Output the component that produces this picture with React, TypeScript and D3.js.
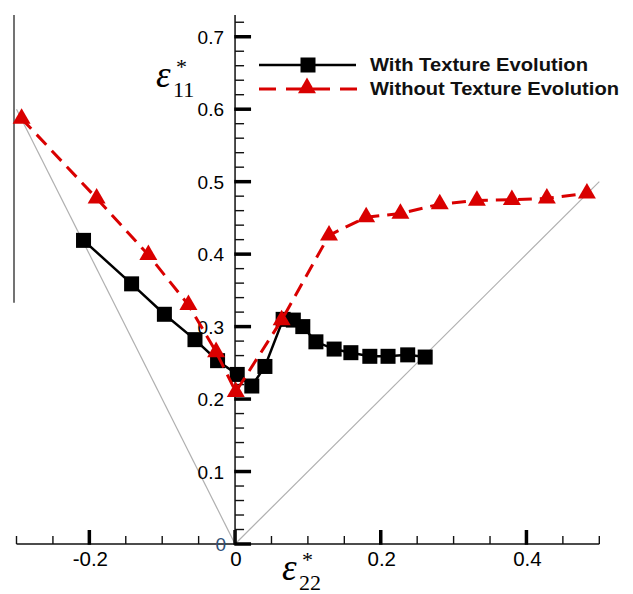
import React, { useRef, useEffect } from 'react';
import * as d3 from 'd3';

// With Texture Evolution (black squares)
const withX = [-0.208, -0.142, -0.097, -0.055, -0.024, 0.003, 0.023, 0.041, 0.066, 0.08, 0.093, 0.111, 0.136, 0.159, 0.185, 0.21, 0.237, 0.261];
const withY = [0.419, 0.359, 0.317, 0.282, 0.253, 0.234, 0.218, 0.245, 0.31, 0.309, 0.3, 0.279, 0.269, 0.264, 0.259, 0.259, 0.261, 0.258];

// Without Texture Evolution (red triangles)
const withoutX = [-0.293, -0.19, -0.119, -0.064, -0.026, 0.001, 0.064, 0.129, 0.18, 0.227, 0.281, 0.332, 0.38, 0.428, 0.483];
const withoutY = [0.587, 0.477, 0.399, 0.33, 0.265, 0.21, 0.309, 0.426, 0.451, 0.456, 0.469, 0.474, 0.475, 0.477, 0.484];

// grey reference lines
const refLeft: [number, number][] = [[-0.3, 0.6], [0, 0]];
const refRight: [number, number][] = [[0, 0], [0.5, 0.5]];

const xMajor = [-0.2, 0, 0.2, 0.4];
const xLabels = ['-0.2', '0', '0.2', '0.4'];
const yMajor = [0.1, 0.2, 0.3, 0.4, 0.5, 0.6, 0.7];
const yLabels = ['0.1', '0.2', '0.3', '0.4', '0.5', '0.6', '0.7'];

const seriesNames = ['With Texture Evolution', 'Without Texture Evolution'];

const W = 633;
const H = 594;
const RED = '#d90000';
const SANS = '"Liberation Sans", Arial, sans-serif';
const SERIF = '"Liberation Serif", "Times New Roman", serif';

const App: React.FC = () => {
    const svgRef = useRef<SVGSVGElement | null>(null);

    useEffect(() => {
        if (!svgRef.current) return;
        const svg = d3.select(svgRef.current);
        svg.selectAll('*').remove();

        const x = d3.scaleLinear().domain([-0.3, 0.5]).range([16.5, 599.3]);
        const y = d3.scaleLinear().domain([0, 0.73]).range([544, 15]);
        const x0 = x(0);
        const y0 = y(0);

        svg.append('rect').attr('width', W).attr('height', H).attr('fill', '#fff');

        // stray frame line on the left
        svg.append('line')
            .attr('x1', 14).attr('x2', 14)
            .attr('y1', y(0.73)).attr('y2', y(0.333))
            .attr('stroke', '#444').attr('stroke-width', 1.5);

        const line = d3.line<[number, number]>()
            .x((d) => x(d[0]))
            .y((d) => y(d[1]));

        [refLeft, refRight].forEach((r) => {
            svg.append('path')
                .attr('d', line(r))
                .attr('fill', 'none')
                .attr('stroke', '#b0b0b0')
                .attr('stroke-width', 1.2);
        });

        // x axis
        svg.append('line')
            .attr('x1', x(-0.3)).attr('x2', x(0.5))
            .attr('y1', y0).attr('y2', y0)
            .attr('stroke', '#111').attr('stroke-width', 1.5);
        const xMinor = d3.range(-6, 11).map((i) => i * 0.05)
            .filter((v) => !xMajor.some((m) => Math.abs(m - v) < 1e-6));
        svg.selectAll('.xminor').data(xMinor).enter().append('line')
            .attr('x1', (d) => x(d)).attr('x2', (d) => x(d))
            .attr('y1', y0).attr('y2', y0 - 8)
            .attr('stroke', '#111').attr('stroke-width', 1.4);
        svg.selectAll('.xmajor').data(xMajor).enter().append('line')
            .attr('x1', (d) => x(d)).attr('x2', (d) => x(d))
            .attr('y1', y0 + 0.75).attr('y2', y0 - 14)
            .attr('stroke', '#000').attr('stroke-width', 3.5);
        svg.selectAll('.xlab').data(xMajor).enter().append('text')
            .attr('x', (d) => x(d) + 1)
            .attr('y', 566)
            .attr('text-anchor', 'middle')
            .attr('font-family', SANS)
            .attr('font-size', 20.5)
            .attr('fill', '#000')
            .text((d, i) => xLabels[i]);

        // y axis
        svg.append('line')
            .attr('x1', x0).attr('x2', x0)
            .attr('y1', y0).attr('y2', y(0.73))
            .attr('stroke', '#111').attr('stroke-width', 1.5);
        const yMinor = d3.range(1, 37).map((i) => i * 0.02)
            .filter((v) => !yMajor.some((m) => Math.abs(m - v) < 1e-6));
        svg.selectAll('.yminor').data(yMinor).enter().append('line')
            .attr('x1', x0).attr('x2', x0 + 9)
            .attr('y1', (d) => y(d)).attr('y2', (d) => y(d))
            .attr('stroke', '#111').attr('stroke-width', 1.4);
        svg.selectAll('.ymajor').data([0, ...yMajor]).enter().append('line')
            .attr('x1', x0 - 0.75).attr('x2', x0 + 16)
            .attr('y1', (d) => y(d)).attr('y2', (d) => y(d))
            .attr('stroke', '#000').attr('stroke-width', 3.5);
        svg.selectAll('.ylab').data(yMajor).enter().append('text')
            .attr('x', 224)
            .attr('y', (d) => y(d) + 7)
            .attr('text-anchor', 'end')
            .attr('font-family', SANS)
            .attr('font-size', 19)
            .attr('fill', '#000')
            .text((d, i) => yLabels[i]);
        svg.append('text')
            .attr('x', 226).attr('y', y0 + 7)
            .attr('text-anchor', 'end')
            .attr('font-family', SANS)
            .attr('font-size', 19)
            .attr('fill', '#2f4f78')
            .text('0');

        // axis titles
        const title = (tx: number, ty: number, sub: string) => {
            const g = svg.append('g').attr('font-family', SERIF).attr('fill', '#000');
            g.append('text').attr('x', tx).attr('y', ty)
                .attr('font-size', 37).attr('font-style', 'italic').text('ε');
            g.append('text').attr('x', tx + 20).attr('y', ty - 13)
                .attr('font-size', 22).text('*');
            g.append('text').attr('x', tx + 17).attr('y', ty + 10)
                .attr('font-size', 22).text(sub);
        };
        title(156, 87, '11');
        title(282, 580, '22');

        // series
        const withPts = withX.map((v, i) => [v, withY[i]] as [number, number]);
        const withoutPts = withoutX.map((v, i) => [v, withoutY[i]] as [number, number]);

        svg.append('path')
            .attr('d', line(withPts))
            .attr('fill', 'none')
            .attr('stroke', '#000')
            .attr('stroke-width', 2.5);
        svg.selectAll('.sq').data(withPts).enter().append('rect')
            .attr('x', (d) => x(d[0]) - 7.5)
            .attr('y', (d) => y(d[1]) - 7.5)
            .attr('width', 15).attr('height', 15)
            .attr('fill', '#000');

        const tri = d3.symbol().type(d3.symbolTriangle).size(140);
        svg.append('path')
            .attr('d', line(withoutPts))
            .attr('fill', 'none')
            .attr('stroke', RED)
            .attr('stroke-width', 3)
            .attr('stroke-dasharray', '14,8');
        svg.selectAll('.tri').data(withoutPts).enter().append('path')
            .attr('d', tri)
            .attr('transform', (d) => `translate(${x(d[0])},${y(d[1])})`)
            .attr('fill', RED);

        // legend
        const lg = svg.append('g');
        lg.append('line')
            .attr('x1', 259).attr('x2', 356).attr('y1', 65).attr('y2', 65)
            .attr('stroke', '#000').attr('stroke-width', 2.5);
        lg.append('rect')
            .attr('x', 300.5).attr('y', 57.5).attr('width', 15).attr('height', 15)
            .attr('fill', '#000');
        lg.append('line')
            .attr('x1', 259).attr('x2', 357).attr('y1', 89).attr('y2', 89)
            .attr('stroke', RED).attr('stroke-width', 3)
            .attr('stroke-dasharray', '17,10');
        lg.append('path')
            .attr('d', tri)
            .attr('transform', 'translate(307,88)')
            .attr('fill', RED);
        lg.selectAll('text').data(seriesNames).enter().append('text')
            .attr('x', 370)
            .attr('y', (d, i) => 71 + i * 24)
            .attr('font-family', SANS)
            .attr('font-weight', 'bold')
            .attr('font-size', 18)
            .attr('fill', '#111')
            .attr('textLength', (d, i) => (i === 0 ? 218 : 249))
            .attr('lengthAdjust', 'spacingAndGlyphs')
            .text((d) => d);
    }, []);

    return (
        <svg
            ref={svgRef}
            width={W}
            height={H}
            style={{ position: 'absolute', left: 0, top: 0, display: 'block' }}
        ></svg>
    );
};

export default App;
